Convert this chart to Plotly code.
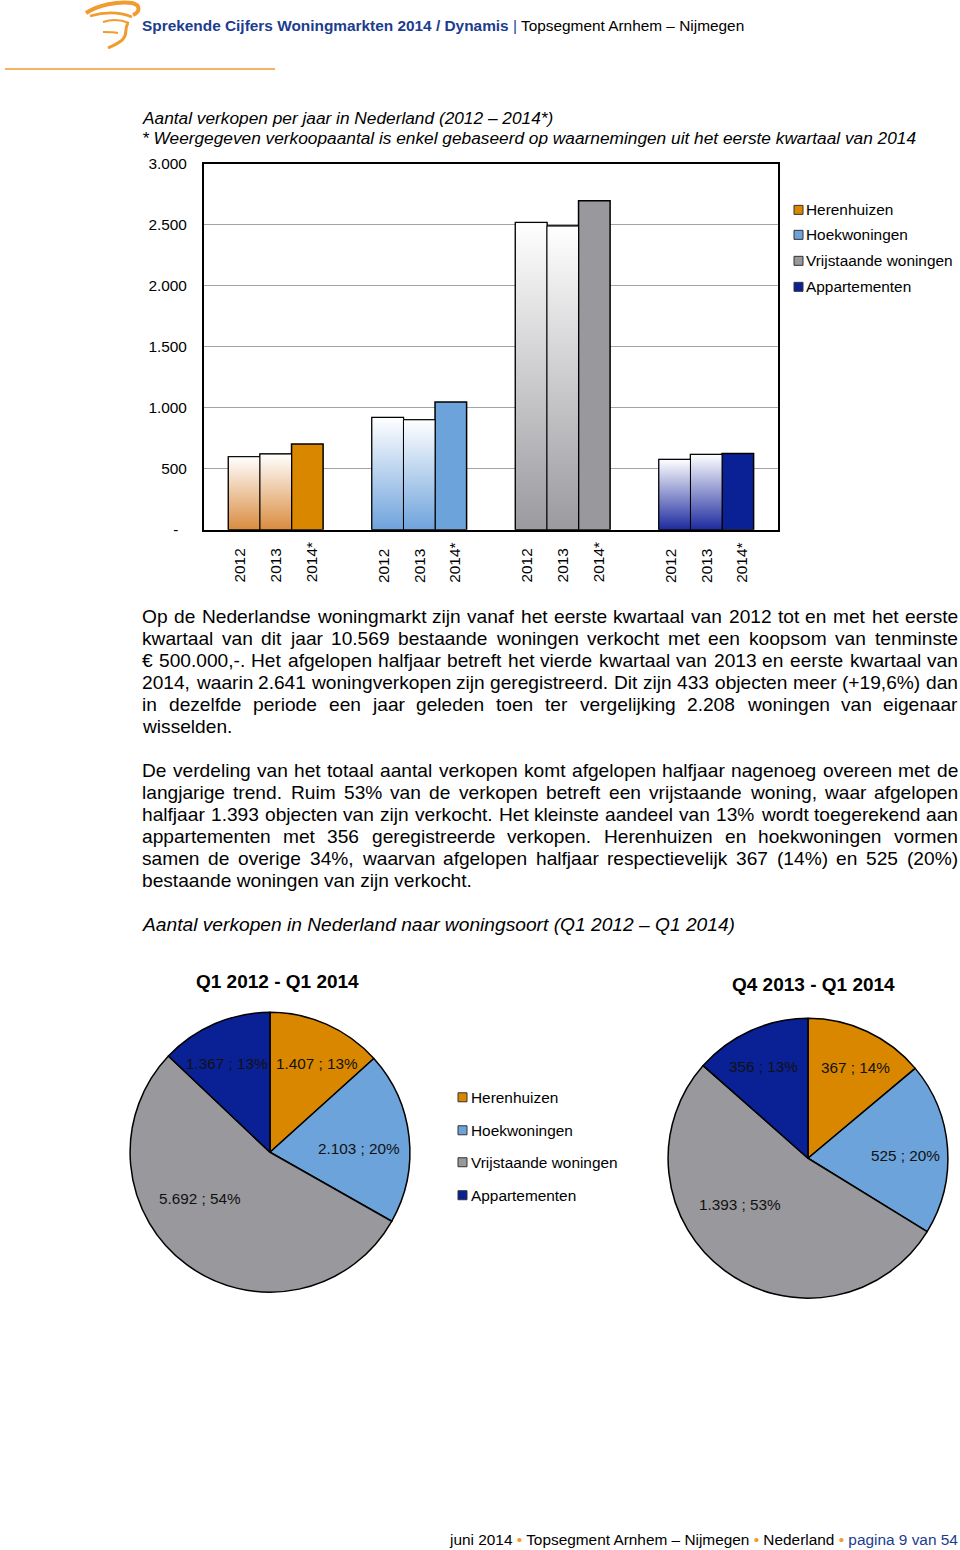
import plotly.graph_objects as go

# ---------------- data ----------------
types = ["Herenhuizen", "Hoekwoningen", "Vrijstaande woningen", "Appartementen"]
years = ["2012", "2013", "2014*"]
sales_2012 = [598, 920, 2519, 576]
sales_2013 = [620, 901, 2490, 617]
sales_2014 = [702, 1047, 2697, 625]
ytick_vals = [0, 500, 1000, 1500, 2000, 2500, 3000]
ytick_text = ["-\u00a0\u00a0", "500", "1.000", "1.500", "2.000", "2.500", "3.000"]

pie_periods = ["Q1 2012 - Q1 2014", "Q4 2013 - Q1 2014"]
pie_q1_2012_q1_2014 = [1407, 2103, 5692, 1367]
pie_q4_2013_q1_2014 = [367, 525, 1393, 356]

# ---------------- styles ----------------
FONT = "Liberation Sans, Arial, sans-serif"
W, H = 960, 1550
colors = ["#DA8700", "#6CA3DA", "#98989D", "#0A2196"]
grad_bottom = ["#DA8C40", "#6FA3DC", "#9A9A9F", "#1D2B9E"]
NAVY = "#1C3C8E"
ORANGE = "#F29B30"
SMALL = 15.4

# the page is photographed with the plot occupying rows 8..1542
TOP, PH = 8.0, 1534.0


def px(x):
    return x / W


def py(y):
    return 1 - (y - TOP) / PH


AW = {' ': 278, '!': 278, '"': 355, '%': 889, '&': 667, "'": 191, '(': 333, ')': 333,
      '*': 389, '+': 584, ',': 278, '-': 333, '.': 278, '/': 278, ':': 278, ';': 278,
      '?': 556, 'A': 667, 'B': 667, 'C': 722, 'D': 722, 'E': 667, 'F': 611, 'G': 778,
      'H': 722, 'I': 278, 'J': 500, 'K': 667, 'L': 556, 'M': 833, 'N': 722, 'O': 778,
      'P': 667, 'Q': 778, 'R': 722, 'S': 667, 'T': 611, 'U': 722, 'V': 667, 'W': 944,
      'X': 667, 'Y': 667, 'Z': 611, 'a': 556, 'b': 556, 'c': 500, 'd': 556, 'e': 556,
      'f': 278, 'g': 556, 'h': 556, 'i': 222, 'j': 222, 'k': 500, 'l': 222, 'm': 833,
      'n': 556, 'o': 556, 'p': 556, 'q': 556, 'r': 333, 's': 500, 't': 278, 'u': 556,
      'v': 500, 'w': 722, 'x': 500, 'y': 500, 'z': 500, '\u20ac': 556, '\u2013': 556}


def tw(s, size):
    return sum(AW.get(c, 556) for c in s) * size / 1000.0


annotations = []
shapes = []


def txt(text, x, y, size, xanchor="left", color="#000000", **kw):
    annotations.append(dict(
        text=text, x=px(x), y=py(y), xref="paper", yref="paper",
        xanchor=xanchor, yanchor="middle", showarrow=False,
        font=dict(family=FONT, size=size, color=color),
        borderpad=0, borderwidth=0, **kw))


# ---------------- figure ----------------
fig = go.Figure()

bw = 0.22
offsets = [-bw, 0.0, bw]
label_offsets_x = [-0.25, 0.0, 0.25]
series = [sales_2012, sales_2013, sales_2014]

for j, (yr, vals) in enumerate(zip(years, series)):
    xs = [i + offsets[j] for i in range(len(types))]
    fill = ["rgba(255,255,255,0)"] * len(types) if j < 2 else colors
    fig.add_trace(go.Bar(
        x=xs, y=vals, width=bw, name=yr,
        marker=dict(color=fill, line=dict(color="#000000", width=1.5)),
        showlegend=False, xaxis="x", yaxis="y"))

# gradient fills for 2012 and 2013 bars (white at the top, colour at the bottom)
for j in range(2):
    vals = series[j]
    for i, v in enumerate(vals):
        xc = i + offsets[j]
        x0, x1 = xc - bw / 2, xc + bw / 2
        fig.add_trace(go.Scatter(
            x=[x0, x0, x1, x1, x0], y=[0, v, v, 0, 0], mode="lines",
            fill="toself", line=dict(color="#000000", width=1),
            fillgradient=dict(type="vertical", colorscale=[[0, grad_bottom[i]], [1, "#FFFFFF"]]),
            showlegend=False, hoverinfo="skip"))

# year labels under the bars
for i in range(len(types)):
    for j, yr in enumerate(years):
        annotations.append(dict(
            text=yr, x=i + label_offsets_x[j], y=0, xref="x", yref="y", textangle=-90,
            xanchor="center", yanchor="bottom", yshift=-53, showarrow=False,
            borderpad=0, borderwidth=0, font=dict(family=FONT, size=SMALL, color="#000000")))

# pies
pie_domains = [([130, 410], [1012, 1292]), ([668, 948], [1018, 1298])]
pie_centres = [(270, 1152), (808, 1158)]
label_offsets = [
    [(47, -89), (89, -4), (-70, 46), (-43, -89)],
    [(47, -91), (97, -3), (-68, 46), (-45, -92)],
]
title_pos = [(277, 981), (813, 984)]
for k, vals in enumerate([pie_q1_2012_q1_2014, pie_q4_2013_q1_2014]):
    (dx0, dx1), (dy0, dy1) = pie_domains[k]
    fig.add_trace(go.Pie(
        labels=types, values=vals, sort=False, direction="clockwise", rotation=0,
        marker=dict(colors=colors, line=dict(color="#000000", width=1.5)),
        textinfo="none", hoverinfo="label+value+percent", showlegend=False,
        domain=dict(x=[px(dx0), px(dx1)], y=[py(dy1), py(dy0)])))
    total = sum(vals)
    for s, v in enumerate(vals):
        label = f"{v:,}".replace(",", ".") + f" ; {round(v / total * 100)}%"
        cx, cy = pie_centres[k]
        ox, oy = label_offsets[k][s]
        txt(label, cx + ox, cy + oy, 15.3, xanchor="center", color="#111111")
    txt(f"<b>{pie_periods[k]}</b>", title_pos[k][0], title_pos[k][1], 19, xanchor="center")

# legends (bar chart + pies)
for (sx, tx, ys) in [(794, 806, [209, 234, 260, 286]), (458, 471, [1097, 1130, 1162, 1195])]:
    for i, name in enumerate(types):
        shapes.append(dict(type="rect", xref="paper", yref="paper",
                           x0=px(sx), x1=px(sx + 9), y0=py(ys[i] + 4.5), y1=py(ys[i] - 4.5),
                           fillcolor=colors[i], line=dict(color="#333333", width=1)))
        txt(name, tx, ys[i], SMALL)

# ---------------- page text ----------------
txt(f"<b><span style='color:{NAVY}'>Sprekende Cijfers Woningmarkten 2014 / Dynamis</span></b>"
    f"<span style='color:{NAVY}'> | </span>Topsegment Arnhem \u2013 Nijmegen", 142, 25, SMALL)
shapes.append(dict(type="line", xref="paper", yref="paper", x0=px(5), x1=px(275), y0=py(68), y1=py(68),
                   line=dict(color=ORANGE, width=1.5)))

# logo approximation
logo_paths = [
    ([(86, 12), (98, 4), (118, 0), (132, 2), (141, 4), (140, 11), (133, 14)], 4),
    ([(90, 15), (104, 11), (120, 11), (132, 16)], 2.5),
    ([(103, 21), (112, 18), (122, 19), (129, 22)], 2),
    ([(128, 22), (124, 28), (128, 33), (123, 38), (120, 42), (114, 44), (108, 47)], 3),
    ([(103, 31), (109, 31), (113, 31), (118, 32)], 2),
]
for pts, wdt in logo_paths:
    d = f"M{px(pts[0][0])},{py(pts[0][1])}"
    for n in range(1, len(pts), 3):
        seg = pts[n:n + 3]
        d += " C" + " ".join(f"{px(a)},{py(b)}" for a, b in seg)
    shapes.append(dict(type="path", xref="paper", yref="paper", path=d,
                       line=dict(color=ORANGE, width=wdt)))

txt("<i>Aantal verkopen per jaar in Nederland (2012 \u2013 2014*)</i>", 142, 117, 17.3)
txt("<i>* Weergegeven verkoopaantal is enkel gebaseerd op waarnemingen uit het eerste kwartaal van 2014</i>",
    142, 137, 17.3)

para1 = [
    "Op de Nederlandse woningmarkt zijn vanaf het eerste kwartaal van 2012 tot en met het eerste",
    "kwartaal van dit jaar 10.569 bestaande woningen verkocht met een koopsom van tenminste",
    "\u20ac 500.000,-. Het afgelopen halfjaar betreft het vierde kwartaal van 2013 en eerste kwartaal van",
    "2014, waarin 2.641 woningverkopen zijn geregistreerd. Dit zijn 433 objecten meer (+19,6%) dan",
    "in dezelfde periode een jaar geleden toen ter vergelijking 2.208 woningen van eigenaar",
    "wisselden.",
]
para2 = [
    "De verdeling van het totaal aantal verkopen komt afgelopen halfjaar nagenoeg overeen met de",
    "langjarige trend. Ruim 53% van de verkopen betreft een vrijstaande woning, waar afgelopen",
    "halfjaar 1.393 objecten van zijn verkocht. Het kleinste aandeel van 13% wordt toegerekend aan",
    "appartementen met 356 geregistreerde verkopen. Herenhuizen en hoekwoningen vormen",
    "samen de overige 34%, waarvan afgelopen halfjaar respectievelijk 367 (14%) en 525 (20%)",
    "bestaande woningen van zijn verkocht.",
]
LEFT, RIGHT, PSIZE = 142, 958, 19.15


def justified(lines, y0, step=22):
    for n, line in enumerate(lines):
        y = y0 + n * step
        if n == len(lines) - 1:
            txt(line, LEFT, y, PSIZE)
            continue
        words = line.split(" ")
        total = sum(tw(w, PSIZE) for w in words)
        gap = (RIGHT - LEFT - total) / (len(words) - 1)
        x = LEFT
        for w in words:
            txt(w, x, y, PSIZE)
            x += tw(w, PSIZE) + gap


justified(para1, 616)
justified(para2, 770)

txt("<i>Aantal verkopen in Nederland naar woningsoort (Q1 2012 \u2013 Q1 2014)</i>", 142, 924, 19.2)

txt(f"juni 2014 <span style='color:{ORANGE}'>\u2022</span> Topsegment Arnhem \u2013 Nijmegen "
    f"<span style='color:{ORANGE}'>\u2022</span> Nederland <span style='color:{ORANGE}'>\u2022</span> "
    f"<span style='color:{NAVY}'>pagina 9 van 54</span>", 958, 1539, SMALL, xanchor="right")

fig.update_layout(
    width=W, height=H, margin=dict(l=0, r=0, t=0, b=0),
    paper_bgcolor="#FFFFFF", plot_bgcolor="#FFFFFF",
    font=dict(family=FONT, size=SMALL, color="#000000"),
    showlegend=False, barmode="overlay",
    xaxis=dict(domain=[px(204), px(778)], range=[-0.5, 3.5], showticklabels=False, ticks="",
               showgrid=False, zeroline=False, showline=True, mirror=True,
               linecolor="#000000", linewidth=2, fixedrange=True),
    yaxis=dict(domain=[py(529), py(163)], range=[0, 3000], tickvals=ytick_vals, ticktext=ytick_text,
               showgrid=True, gridcolor="#A3A3A3", gridwidth=1, zeroline=False, ticks="",
               showline=True, mirror=True, linecolor="#000000", linewidth=2,
               tickfont=dict(family=FONT, size=SMALL, color="#000000"), ticklabelstandoff=12,
               fixedrange=True),
    annotations=annotations, shapes=shapes,
)

fig.write_html("out.html")
